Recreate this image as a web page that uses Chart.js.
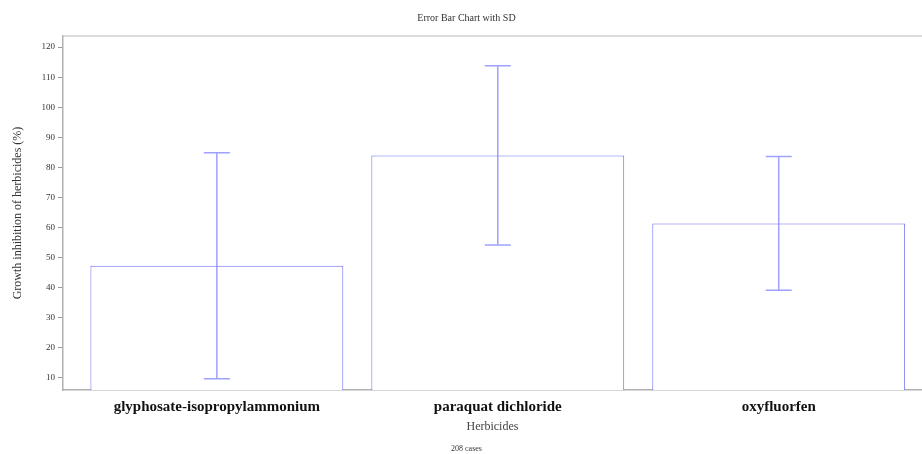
<!DOCTYPE html>
<html>
<head>
<meta charset="utf-8">
<script src="https://cdn.jsdelivr.net/npm/chart.js@4"></script>
<style>
  body { margin: 0; background: #fff; }
  #wrap { width: 922px; height: 454px; }
</style>
</head>
<body>
<div id="wrap"><canvas id="chart" width="922" height="454"></canvas></div>
<script>
// data
const herbicides = ["glyphosate-isopropylammonium", "paraquat dichloride", "oxyfluorfen"];
const means = [47.3, 84.0, 61.4];
const sds = [37.6, 29.8, 22.2];
const yTicks = [10, 20, 30, 40, 50, 60, 70, 80, 90, 100, 110, 120];

const serif = "'Liberation Serif', 'DejaVu Serif', serif";

// draws the SD whiskers with the chart's own scales
const errorBars = {
  id: "errorBars",
  afterDatasetsDraw(chart) {
    const ctx = chart.ctx;
    const x = chart.scales.x, y = chart.scales.y;
    ctx.save();
    ctx.strokeStyle = "rgba(120,120,255,0.7)";
    ctx.lineWidth = 1.5;
    for (let i = 0; i < means.length; i++) {
      let px = x.getPixelForValue(i);
      let top = y.getPixelForValue(means[i] + sds[i]);
      let bot = y.getPixelForValue(means[i] - sds[i]);
      ctx.beginPath();
      ctx.moveTo(px, top); ctx.lineTo(px, bot);
      ctx.moveTo(px - 13, top); ctx.lineTo(px + 13, top);
      ctx.moveTo(px - 13, bot); ctx.lineTo(px + 13, bot);
      ctx.stroke();
    }
    // frame line on top of the plot
    const a = chart.chartArea;
    ctx.strokeStyle = "#d0d0d0";
    ctx.lineWidth = 1.5;
    ctx.beginPath();
    ctx.moveTo(a.left, a.top); ctx.lineTo(a.right, a.top);
    ctx.stroke();
    ctx.restore();
  }
};

new Chart(document.getElementById("chart").getContext("2d"), {
  type: "bar",
  data: {
    datasets: [{
      data: means.map((v, i) => ({ x: i, y: v })),
      backgroundColor: "#ffffff",
      borderColor: "rgb(110,110,240)",
      borderWidth: 1,
      borderSkipped: false,
      barPercentage: 0.9,
      categoryPercentage: 1.0
    }]
  },
  options: {
    responsive: false,
    animation: false,
    layout: { padding: { left: 11, right: 0, top: 0, bottom: 0 } },
    plugins: {
      legend: { display: false },
      tooltip: { enabled: false },
      title: {
        display: true,
        text: "Error Bar Chart with SD",
        color: "#333",
        font: { family: serif, size: 10, weight: "normal" },
        padding: { top: 12, bottom: 12 }
      },
      subtitle: {
        display: true,
        position: "bottom",
        text: "208 cases",
        color: "#333",
        font: { family: serif, size: 8 },
        padding: { top: 10, bottom: 0 }
      }
    },
    scales: {
      x: {
        type: "linear",
        min: -0.548,
        max: 2.51,
        offset: false,
        afterBuildTicks: (s) => { s.ticks = herbicides.map((h, i) => ({ value: i })); },
        ticks: {
          autoSkip: false,
          maxRotation: 0,
          color: "#111",
          font: { family: serif, size: 15, weight: "bold" },
          padding: 0,
          callback: (v) => herbicides[v]
        },
        grid: { display: false },
        border: { display: true, color: "#b0b0b0", width: 1.5 },
        title: {
          display: true,
          text: "Herbicides",
          color: "#444",
          font: { family: serif, size: 12 },
          padding: { top: 4, bottom: 0 }
        }
      },
      y: {
        min: 6,
        max: 123.7,
        afterBuildTicks: (s) => { s.ticks = yTicks.map(v => ({ value: v })); },
        ticks: {
          color: "#333",
          font: { family: serif, size: 9 },
          padding: 3
        },
        grid: { drawOnChartArea: false, drawTicks: true, tickLength: 5, color: "#999" },
        border: { display: true, color: "#b0b0b0", width: 1.5 },
        title: {
          display: true,
          text: "Growth inhibition of herbicides (%)",
          color: "#333",
          font: { family: serif, size: 12 },
          padding: { top: 0, bottom: 13 }
        }
      }
    }
  },
  plugins: [errorBars]
});
</script>
</body>
</html>
